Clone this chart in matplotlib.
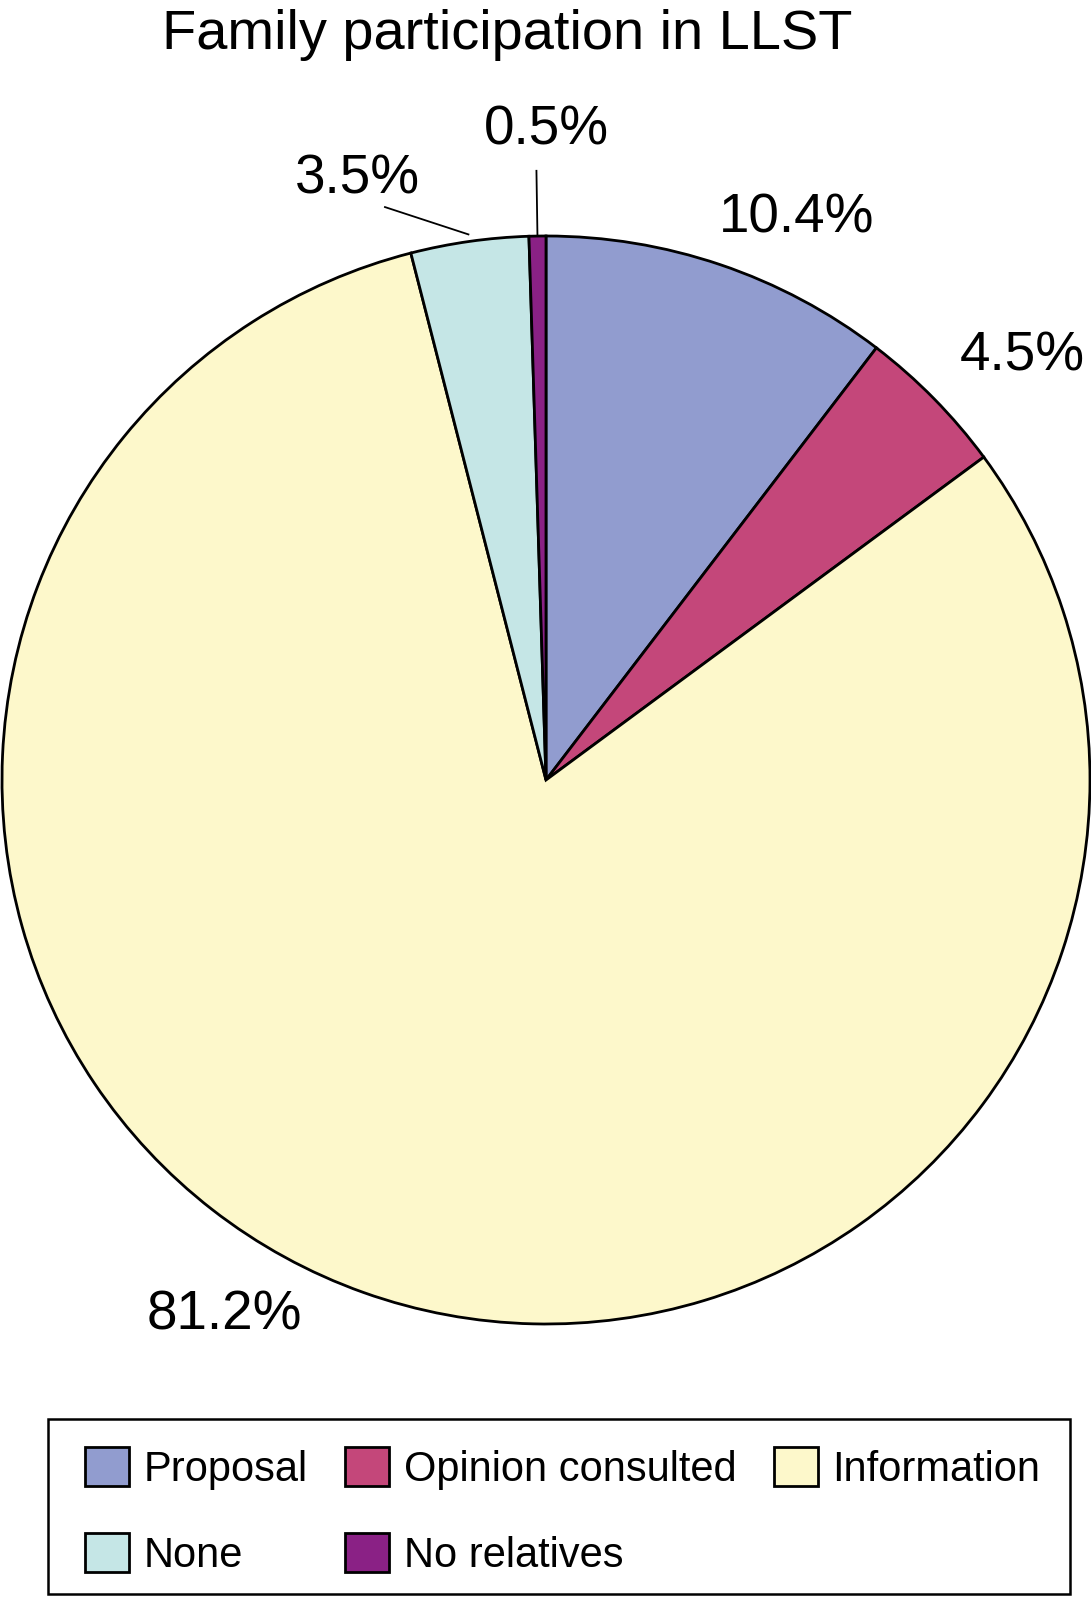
import numpy as np
import matplotlib.pyplot as plt
from matplotlib.patches import Patch, Rectangle

plt.rcParams['font.family'] = ['Liberation Sans', 'DejaVu Sans']

# Data
categories = ['Proposal', 'Opinion consulted', 'Information', 'None', 'No relatives']
shares = [10.4, 4.5, 81.2, 3.5, 0.5]
pct_labels = ['10.4%', '4.5%', '81.2%', '3.5%', '0.5%']
colors = ['#919ccf', '#c4477a', '#fdf8cb', '#c5e6e6', '#8a2185']

# label placement: angle shift from wedge middle (deg) and radius
label_shift = [-5.4, -2.9, -11.4, 9.3, -0.9]
label_rad = [1.13, 1.172, 1.148, 1.157, 1.194]

W, H = 1091, 1597
cx, cy, R = 546, 780, 544   # pie centre / radius in pixels

fig = plt.figure(figsize=(W / 100, H / 100), dpi=100)
ax = fig.add_axes([0, 0, 1, 1])

wedges, _ = ax.pie(shares, colors=colors, startangle=90, counterclock=False,
                   wedgeprops=dict(edgecolor='black', linewidth=2.0))
ax.set_aspect('auto')
ax.set_xlim(-cx / R, (W - cx) / R)
ax.set_ylim(-(H - cy) / R, cy / R)
ax.axis('off')

for i, w in enumerate(wedges):
    mid = (w.theta1 + w.theta2) / 2
    a = np.deg2rad(mid + label_shift[i])
    ax.text(label_rad[i] * np.cos(a), label_rad[i] * np.sin(a), pct_labels[i],
            ha='center', va='center', fontsize=39.5)

# leader lines for the small slices
mid_none = np.deg2rad((wedges[3].theta1 + wedges[3].theta2) / 2)
ax.plot([1.013 * np.cos(mid_none), 1.094 * np.cos(np.deg2rad(105.7))],
        [1.013 * np.sin(mid_none), 1.094 * np.sin(np.deg2rad(105.7))],
        color='black', lw=1.3)
mid_nr = np.deg2rad((wedges[4].theta1 + wedges[4].theta2) / 2)
ax.plot([1.0 * np.cos(mid_nr), 1.12 * np.cos(mid_nr)],
        [1.0 * np.sin(mid_nr), 1.12 * np.sin(mid_nr)],
        color='black', lw=1.3)

fig.text(507 / W, 1 - 49 / H, 'Family participation in LLST',
         ha='center', va='baseline', fontsize=40.3)

# legend box
fig.patches.append(Rectangle((48 / W, 1 - 1594 / H), (1070 - 48) / W, (1594 - 1419) / H,
                             transform=fig.transFigure, fill=False,
                             edgecolor='black', linewidth=1.8))
# legend fills columns first, so reorder to get row-wise layout
order = [0, 3, 1, 4, 2]
handles = [Patch(facecolor=colors[k], edgecolor='black', linewidth=2.0) for k in order]
fig.legend(handles, [categories[k] for k in order], ncol=3, loc='upper left',
           bbox_to_anchor=(85 / W, 1 - 1447 / H), frameon=False, borderpad=0,
           borderaxespad=0, fontsize=30, handlelength=1.055, handleheight=1.055,
           handletextpad=0.35, columnspacing=0.9, labelspacing=1.05)

fig.savefig('out.png', dpi=100)
